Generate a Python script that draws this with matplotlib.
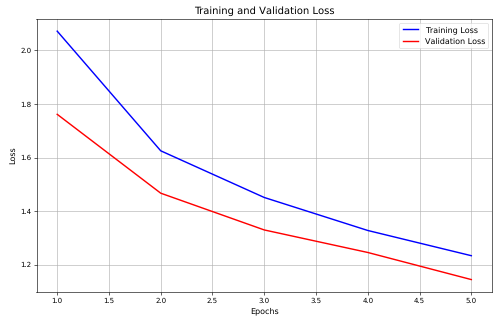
import matplotlib
matplotlib.use("Agg")
import matplotlib.pyplot as plt

epochs = [1, 2, 3, 4, 5]
train_loss = [2.071, 1.625, 1.451, 1.328, 1.234]
val_loss = [1.761, 1.467, 1.330, 1.246, 1.145]

# the reference looks like a default matplotlib chart shrunk to ~54 dpi;
# draw at 100 dpi and scale every size by the same factor
s = 0.54
plt.rcParams.update({
    "text.hinting": "no_hinting",
    "text.hinting_factor": 1,
    "axes.linewidth": 0.8 * s,
    "grid.linewidth": 0.8 * s,
    "xtick.major.size": 3.5 * s,
    "ytick.major.size": 3.5 * s,
    "xtick.major.width": 0.8 * s,
    "ytick.major.width": 0.8 * s,
    "xtick.major.pad": 3.5 * s,
    "ytick.major.pad": 3.5 * s,
    "axes.titlepad": 6.0 * s,
    "axes.labelpad": 4.0 * s,
})

fig = plt.figure(figsize=(5.0, 3.23), dpi=100)
ax = fig.add_axes([0.073, 0.096, 0.911, 0.846])

ax.plot(epochs, train_loss, color="blue", linewidth=1.9 * s, label="Training Loss")
ax.plot(epochs, val_loss, color="red", linewidth=1.9 * s, label="Validation Loss")

ax.set_title("Training and Validation Loss", fontsize=13 * s)
ax.set_xlabel("Epochs", fontsize=11 * s)
ax.set_ylabel("Loss", fontsize=11 * s)
ax.tick_params(labelsize=10 * s)
leg = ax.legend(fontsize=10.5 * s)
leg.get_frame().set_linewidth(0.8 * s)
ax.grid(True)

fig.savefig("out.png", dpi=100)
